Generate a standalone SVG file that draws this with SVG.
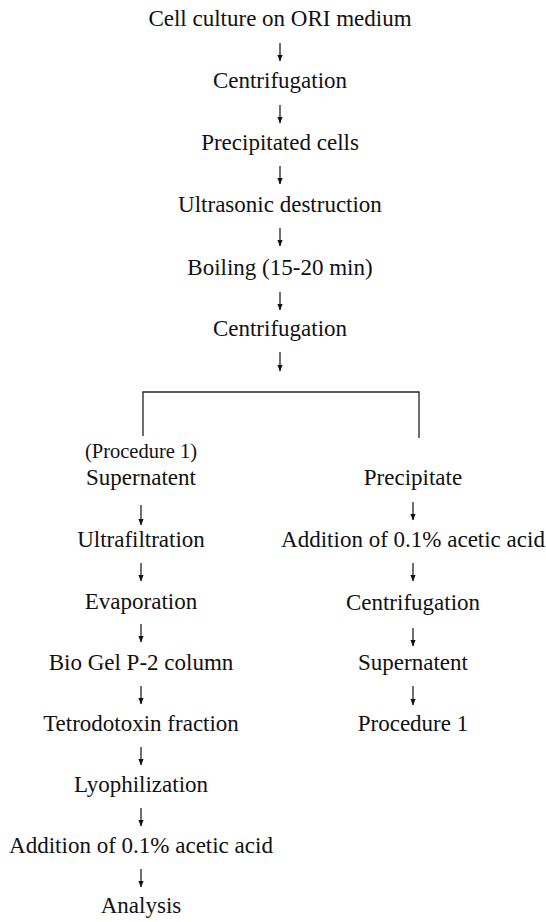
<svg xmlns="http://www.w3.org/2000/svg" width="546" height="922" viewBox="0 0 546 922">
<style>
text{font-family:"Liberation Serif","Times New Roman",serif;font-size:23px;fill:#111;text-anchor:middle}
.sm{font-size:20.5px}
.ar{stroke:#111;stroke-width:1.2;fill:none}
.br{stroke:#222;stroke-width:1.3;fill:none}
</style>
<defs>
<marker id="ah" markerUnits="userSpaceOnUse" markerWidth="10" markerHeight="10" viewBox="-1 -5 10 10" refX="6" refY="0" orient="auto">
<path d="M0,-2.6 L6.5,0 L0,2.6 z" fill="#111"/>
</marker>
</defs>
<rect width="546" height="922" fill="#fff"/>
<g id="connectors">
<path class="ar" d="M280,43 V61" marker-end="url(#ah)"/>
<path class="ar" d="M280,105 V123" marker-end="url(#ah)"/>
<path class="ar" d="M280,166 V184" marker-end="url(#ah)"/>
<path class="ar" d="M280,228 V246" marker-end="url(#ah)"/>
<path class="ar" d="M280,292 V310" marker-end="url(#ah)"/>
<path class="ar" d="M280,352 V371" marker-end="url(#ah)"/>
<path id="bracket" class="br" d="M143,436 V392 H419 V438"/>
<path class="ar" d="M141,505 V525" marker-end="url(#ah)"/>
<path class="ar" d="M141,563 V581" marker-end="url(#ah)"/>
<path class="ar" d="M141,624 V642" marker-end="url(#ah)"/>
<path class="ar" d="M141,686 V704" marker-end="url(#ah)"/>
<path class="ar" d="M141,747 V765" marker-end="url(#ah)"/>
<path class="ar" d="M141,808 V826" marker-end="url(#ah)"/>
<path class="ar" d="M141,869 V887" marker-end="url(#ah)"/>
<path class="ar" d="M413,502 V520" marker-end="url(#ah)"/>
<path class="ar" d="M413,563 V581" marker-end="url(#ah)"/>
<path class="ar" d="M413,628 V646" marker-end="url(#ah)"/>
<path class="ar" d="M413,686 V705" marker-end="url(#ah)"/>
</g>
<g id="n1"><text x="280" y="26">Cell culture on ORI medium</text></g>
<g id="n2"><text x="280" y="88">Centrifugation</text></g>
<g id="n3"><text x="280" y="150">Precipitated cells</text></g>
<g id="n4"><text x="280" y="212">Ultrasonic destruction</text></g>
<g id="n5"><text x="280" y="275">Boiling (15-20 min)</text></g>
<g id="n6"><text x="280" y="336">Centrifugation</text></g>
<g id="proc1label"><text class="sm" x="141" y="458">(Procedure 1)</text></g>
<g id="l1"><text x="141" y="485">Supernatent</text></g>
<g id="l2"><text x="141" y="547">Ultrafiltration</text></g>
<g id="l3"><text x="141" y="609">Evaporation</text></g>
<g id="l4"><text x="141" y="670">Bio Gel P-2 column</text></g>
<g id="l5"><text x="141" y="731">Tetrodotoxin fraction</text></g>
<g id="l6"><text x="141" y="792">Lyophilization</text></g>
<g id="l7"><text x="141" y="853">Addition of 0.1% acetic acid</text></g>
<g id="l8"><text x="141" y="913">Analysis</text></g>
<g id="r1"><text x="413" y="485">Precipitate</text></g>
<g id="r2"><text x="413" y="547">Addition of 0.1% acetic acid</text></g>
<g id="r3"><text x="413" y="610">Centrifugation</text></g>
<g id="r4"><text x="413" y="670">Supernatent</text></g>
<g id="r5"><text x="413" y="731">Procedure 1</text></g>
</svg>
